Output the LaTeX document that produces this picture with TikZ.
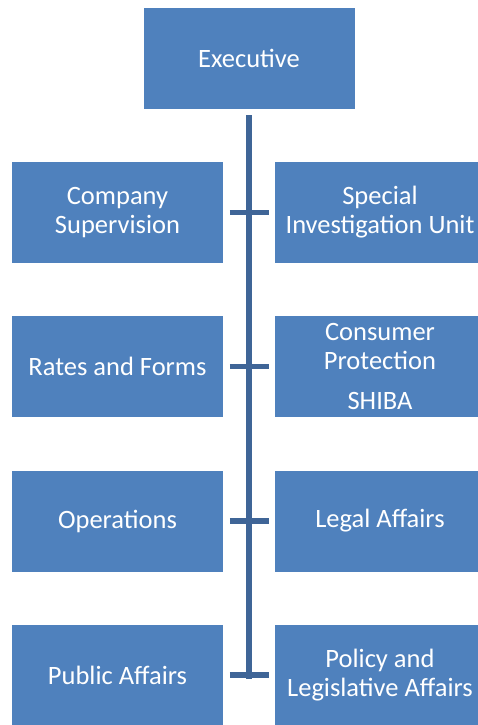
\documentclass[tikz,border=0pt]{standalone}
\usepackage{fontspec}
\setmainfont{Carlito}
\definecolor{boxblue}{HTML}{4F81BD}
\definecolor{lineblue}{HTML}{3F6597}
\begin{document}
\begin{tikzpicture}[x=1pt,y=-1pt,
  unit/.style={rectangle, fill=boxblue, draw=white, line width=0.8pt,
    minimum width=212pt, minimum height=102pt, inner sep=0pt,
    text=white, align=center, font=\fontsize{26.5}{29}\selectfont},
  conn/.style={draw=lineblue, line width=5.5pt}]
\useasboundingbox (0,0) rectangle (478,725);
\clip (0,0) rectangle (478,725);
\fill[white] (0,0) rectangle (478,725);
\node[unit] (exec) at (249,58) {Executive};
\node[unit] (l1) at (117.5,212.5) {Company\\Supervision};
\node[unit] (r1) at (380,212.5) {Special\\Investigation Unit};
\node[unit] (l2) at (117.5,366.5) {Rates and Forms};
\node[unit] (r2) at (380,366.5) {Consumer\\Protection\\[11pt]SHIBA};
\node[unit] (l3) at (117.5,521) {Operations};
\node[unit] (r3) at (380,521) {Legal Affairs};
\node[unit] (l4) at (117.5,675) {Public Affairs};
\node[unit] (r4) at (380,675) {Policy and\\Legislative Affairs};
\coordinate (top) at (249,115);
\coordinate (bot) at (249,678.5);
\draw[conn] (top) -- (bot);
\foreach \i in {1,2,3,4}{
  \draw[conn] ([xshift=6pt]l\i.east) -- ([xshift=-5pt]r\i.west);
}
\end{tikzpicture}
\end{document}
